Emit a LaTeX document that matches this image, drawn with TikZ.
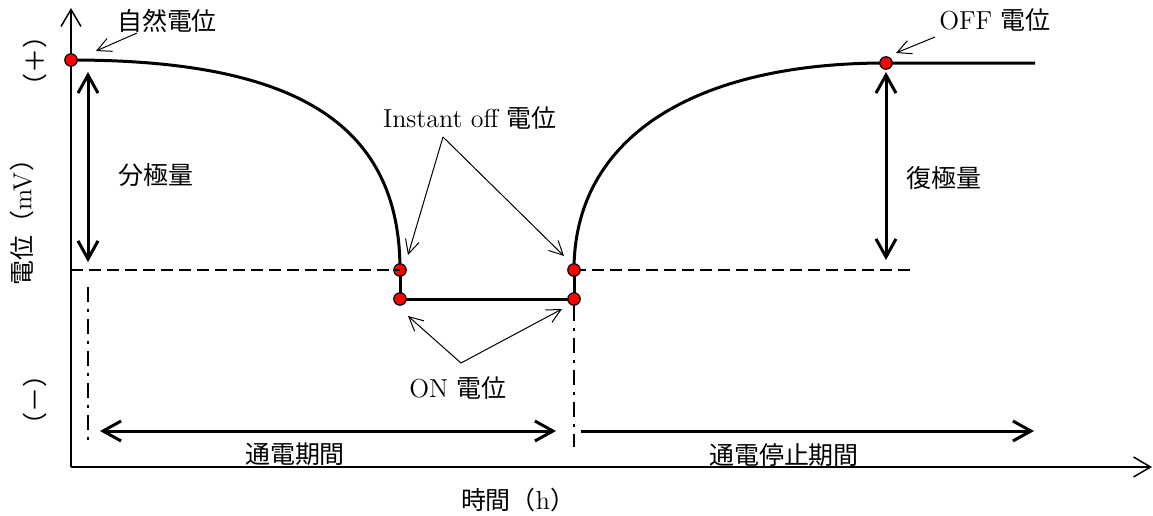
\documentclass[tikz,border=0pt]{standalone}
\usepackage{fontspec}
\newfontfamily\jp{Noto Sans CJK JP}[Scale=0.96]
\usetikzlibrary{arrows.meta}
\begin{document}
\begin{tikzpicture}[x=0.5pt,y=-0.5pt,
  every node/.style={font=\fontsize{13}{15}\selectfont, inner sep=0pt},
  axis/.style={line width=0.75pt,-{Straight Barb[length=8.5pt,width=10pt]}},
  curve/.style={line width=1.5pt},
  dbl/.style={line width=1.5pt,{Straight Barb[length=9pt,width=10pt]}-{Straight Barb[length=9pt,width=10pt]}},
  sgl/.style={line width=1.5pt,-{Straight Barb[length=9pt,width=10pt]}},
  note/.style={line width=0.5pt,-{Straight Barb[length=7pt,width=7pt]}},
  dashline/.style={line width=1pt,dash pattern=on 6pt off 3pt},
  dashdot/.style={line width=1pt,dash pattern=on 7.5pt off 3.5pt on 1.5pt off 3.5pt},
  pt/.style={circle,fill=red,draw=black,line width=0.6pt,minimum size=6.2pt,inner sep=0pt},
]
\useasboundingbox (0,0) rectangle (1153,515);
% axes
\coordinate (O) at (71,467);
\coordinate (ytop) at (71,8);
\coordinate (xend) at (1152,467);
\draw[axis] (O) -- (ytop);
\draw[axis] (O) -- (xend);
% points
\coordinate (A) at (71,60);
\coordinate (B) at (400,270);
\coordinate (C) at (400,299);
\coordinate (D) at (574,299);
\coordinate (E) at (574,270);
\coordinate (F) at (886,63);
\coordinate (Fend) at (1035,63);
% curves
\draw[curve] (A) .. controls (290,60) and (400,120) .. (B);
\draw[curve] (B) -- (C) -- (D) -- (E);
\draw[curve] (E) .. controls (574,140) and (690,63) .. (F) -- (Fend);
% dashed levels
\coordinate (L1) at (71,270);
\coordinate (R1) at (910,270);
\draw[dashline] (E) -- (R1);
% dash-dot verticals
\coordinate (v1a) at (88,287);
\coordinate (v1b) at (88,447);
\coordinate (v2a) at (574,306);
\coordinate (v2b) at (574,447);
\draw[dashdot] (v1a) -- (v1b);
\draw[dashdot] (v2a) -- (v2b);
% dots
\node[pt] (pA) at (A) {};
\node[pt] (pB) at (B) {};
\node[pt] (pC) at (C) {};
\node[pt] (pD) at (D) {};
\node[pt] (pE) at (E) {};
\node[pt] (pF) at (F) {};
\draw[dashline] (L1) -- (B);
% polarization arrows
\coordinate (p1t) at (88,72);
\coordinate (p1b) at (88,262);
\coordinate (p2t) at (886,72);
\coordinate (p2b) at (886,260);
\draw[dbl] (p1t) -- (p1b);
\draw[dbl] (p2t) -- (p2b);
% period arrows
\coordinate (b1l) at (100,431);
\coordinate (b1r) at (556,431);
\coordinate (b2l) at (581,431);
\coordinate (b2r) at (1034,431);
\draw[dbl] (b1l) -- (b1r);
\draw[sgl] (b2l) -- (b2r);
% labels
\node (n1) at (167,21) {\jp 自然電位};
\node (n2) at (995,20) {OFF {\jp 電位}};
\node (n3) at (470,118) {Instant off {\jp 電位}};
\node (n4) at (458,388) {ON {\jp 電位}};
\node (n5) at (156,175) {\jp 分極量};
\node (n6) at (944,178) {\jp 復極量};
\node (n7) at (295,454) {\jp 通電期間};
\node (n8) at (784,455) {\jp 通電停止期間};
\node (n9) at (518,500) {{\jp 時間（}h{\jp ）}};
\node[rotate=90] (n10) at (22,216) {{\jp 電位（}mV{\jp ）}};
\node[rotate=90] (n11) at (35,61) {\jp （＋）};
\node[rotate=90] (n12) at (35,400) {\jp （－）};
% annotation arrows
\coordinate (a1s) at (137,33);
\coordinate (a1e) at (96,51);
\coordinate (a2s) at (935,37);
\coordinate (a2e) at (896,53);
\coordinate (a3s) at (443,137);
\coordinate (a3e) at (408,255);
\coordinate (a4e) at (564,256);
\coordinate (a5s) at (461,363);
\coordinate (a5e) at (408,316);
\coordinate (a6e) at (562,309);
\draw[note] (a1s) -- (a1e);
\draw[note] (a2s) -- (a2e);
\draw[note] (a3s) -- (a3e);
\draw[note] (a3s) -- (a4e);
\draw[note] (a5s) -- (a5e);
\draw[note] (a5s) -- (a6e);
\end{tikzpicture}
\end{document}
